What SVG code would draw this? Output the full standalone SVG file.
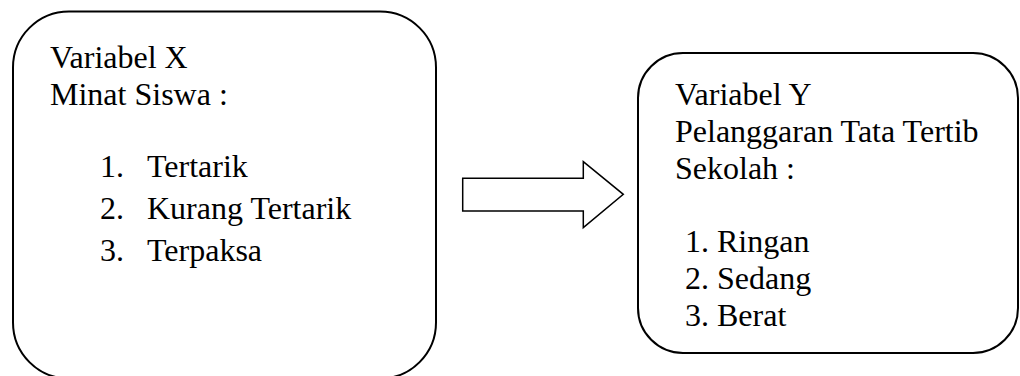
<svg xmlns="http://www.w3.org/2000/svg" width="1020" height="376" viewBox="0 0 1020 376">
<style>
.box{fill:#fff;stroke:#000;stroke-width:2}
.arrow{fill:#fff;stroke:#000;stroke-width:1.5;stroke-linejoin:miter}
text{font-family:"Liberation Serif","Times New Roman",serif;font-size:32px;fill:#000}
</style>
<rect width="1020" height="376" fill="#fff"/>
<g id="nodeX">
<rect class="box" x="13" y="11.5" width="423" height="367" rx="56" ry="56"/>
<text x="50" y="68">Variabel X</text>
<text x="50" y="104.8">Minat Siswa :</text>
<text x="100" y="177">1.</text><text x="147" y="177">Tertarik</text>
<text x="100" y="219">2.</text><text x="147" y="219">Kurang Tertarik</text>
<text x="100" y="261">3.</text><text x="147" y="261">Terpaksa</text>
</g>
<g id="connectors">
<polygon class="arrow" points="462.7,178.3 583.3,178.3 583.3,161.7 623.3,194.3 583.3,227.7 583.3,211 462.7,211"/>
</g>
<g id="nodeY">
<rect class="box" x="638" y="53" width="380" height="300" rx="45" ry="45"/>
<text x="675" y="105">Variabel Y</text>
<text x="675" y="141.8">Pelanggaran Tata Tertib</text>
<text x="675" y="178.5">Sekolah :</text>
<text x="685" y="252.3">1.</text><text x="717" y="252.3">Ringan</text>
<text x="685" y="289">2.</text><text x="717" y="289">Sedang</text>
<text x="685" y="325.8">3.</text><text x="717" y="325.8">Berat</text>
</g>
</svg>
